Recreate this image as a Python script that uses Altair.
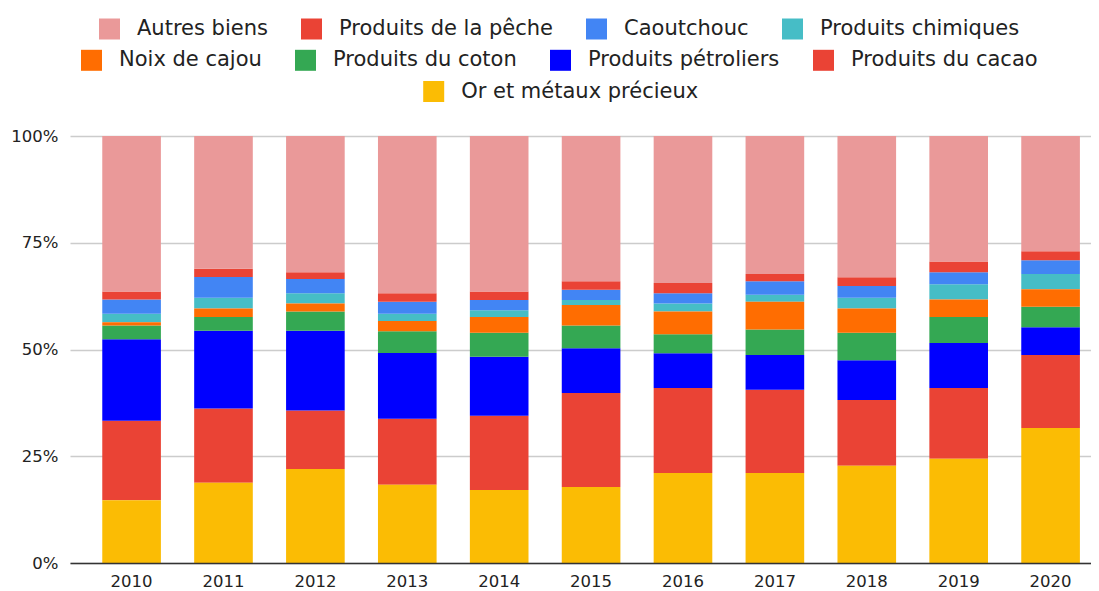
import altair as alt
import pandas as pd

years = ["2010", "2011", "2012", "2013", "2014", "2015", "2016", "2017", "2018", "2019", "2020"]

# stacking order, bottom -> top
categories = [
    "Or et métaux précieux", "Produits du cacao", "Produits pétroliers",
    "Produits du coton", "Noix de cajou", "Produits chimiques",
    "Caoutchouc", "Produits de la pêche", "Autres biens",
]

or_metaux = [14.7, 18.8, 22.0, 18.3, 17.1, 17.8, 21.1, 21.1, 22.8, 24.4, 31.6]
cacao = [18.6, 17.4, 13.7, 15.5, 17.4, 22.0, 19.9, 19.5, 15.4, 16.6, 17.1]
petrole = [19.1, 18.2, 18.7, 15.4, 13.8, 10.5, 8.1, 8.1, 9.3, 10.5, 6.5]
coton = [3.2, 3.2, 4.5, 5.1, 5.6, 5.3, 4.5, 6.0, 6.4, 6.1, 4.8]
cajou = [0.8, 2.0, 1.9, 2.4, 3.7, 4.8, 5.3, 6.5, 5.7, 4.1, 4.1]
chimiques = [2.0, 2.5, 2.4, 1.7, 1.6, 1.2, 1.9, 1.6, 2.5, 3.6, 3.6]
caoutchouc = [3.3, 4.9, 3.3, 2.8, 2.4, 2.4, 2.4, 3.2, 2.8, 2.8, 3.2]
peche = [1.9, 1.9, 1.6, 2.0, 2.0, 2.0, 2.4, 1.7, 2.0, 2.5, 2.1]
autres = [36.4, 31.1, 31.9, 36.8, 36.4, 34.0, 34.4, 32.3, 33.1, 29.4, 27.0]

series = [or_metaux, cacao, petrole, coton, cajou, chimiques, caoutchouc, peche, autres]

colors = {
    "Autres biens": "#EA9999",
    "Produits de la pêche": "#EA4335",
    "Caoutchouc": "#4285F4",
    "Produits chimiques": "#46BDC6",
    "Noix de cajou": "#FF6D01",
    "Produits du coton": "#34A853",
    "Produits pétroliers": "#0000FF",
    "Produits du cacao": "#EA4335",
    "Or et métaux précieux": "#FBBC04",
}

legend_rows = [
    ["Autres biens", "Produits de la pêche", "Caoutchouc", "Produits chimiques"],
    ["Noix de cajou", "Produits du coton", "Produits pétroliers", "Produits du cacao"],
    ["Or et métaux précieux"],
]
legend_pos = [(29.0, -117.5), (11.0, -86.2), (353.2, -55.0)]

rows = []
for order, (cat, vals) in enumerate(zip(categories, series)):
    for yr, v in zip(years, vals):
        rows.append({"year": yr, "cat": cat, "value": v, "order": order})
df = pd.DataFrame(rows)

x_enc = alt.X(
    "year:O", title=None,
    scale=alt.Scale(paddingInner=0.362, paddingOuter=0.236, align=0.744),
    axis=alt.Axis(labelAngle=0, ticks=False, domain=True, domainColor="#333333",
                  domainWidth=1.5, labelPadding=10, labelFontSize=16.5,
                  labelColor="#222222", zindex=1, grid=False),
)
y_enc = alt.Y(
    "y0:Q", title=None,
    scale=alt.Scale(domain=[0, 1], nice=False),
    axis=alt.Axis(values=[0, 0.25, 0.5, 0.75, 1], format=".0%", domain=False,
                  ticks=False, labelPadding=12, labelFontSize=16.5,
                  labelColor="#222222", gridColor="#cccccc", gridWidth=1.3),
)

layers = []
for cats, (lx, ly) in zip(legend_rows, legend_pos):
    layer = (
        alt.Chart()
        .mark_bar()
        .encode(
            x=x_enc,
            y=y_enc,
            y2="y1:Q",
            color=alt.Color(
                "cat:N",
                sort=cats,
                scale=alt.Scale(domain=cats, range=[colors[c] for c in cats]),
                legend=alt.Legend(
                    title=None, orient="none", legendX=lx, legendY=ly,
                    direction="horizontal", symbolType="square", symbolSize=441,
                    symbolStrokeWidth=0, symbolOpacity=1, labelFontSize=21,
                    labelColor="#222222", labelOffset=17, columnPadding=33,
                    labelLimit=500, padding=0,
                ),
            ),
        )
        .transform_filter(alt.FieldOneOfPredicate(field="cat", oneOf=cats))
    )
    layers.append(layer)

chart = (
    alt.layer(*layers, data=df)
    .transform_stack(
        stack="value", as_=["y0", "y1"], groupby=["year"],
        sort=[alt.SortField("order", order="ascending")], offset="normalize",
    )
    .resolve_scale(color="independent")
    .properties(
        width=1021, height=427,
        autosize=alt.AutoSizeParams(type="none"),
        padding={"left": 62, "top": 128, "right": 0, "bottom": 30},
    )
    .configure(font="DejaVu Sans")
    .configure_view(stroke=None)
)

chart.save("out.html", embed_options={"renderer": "svg", "actions": False})
